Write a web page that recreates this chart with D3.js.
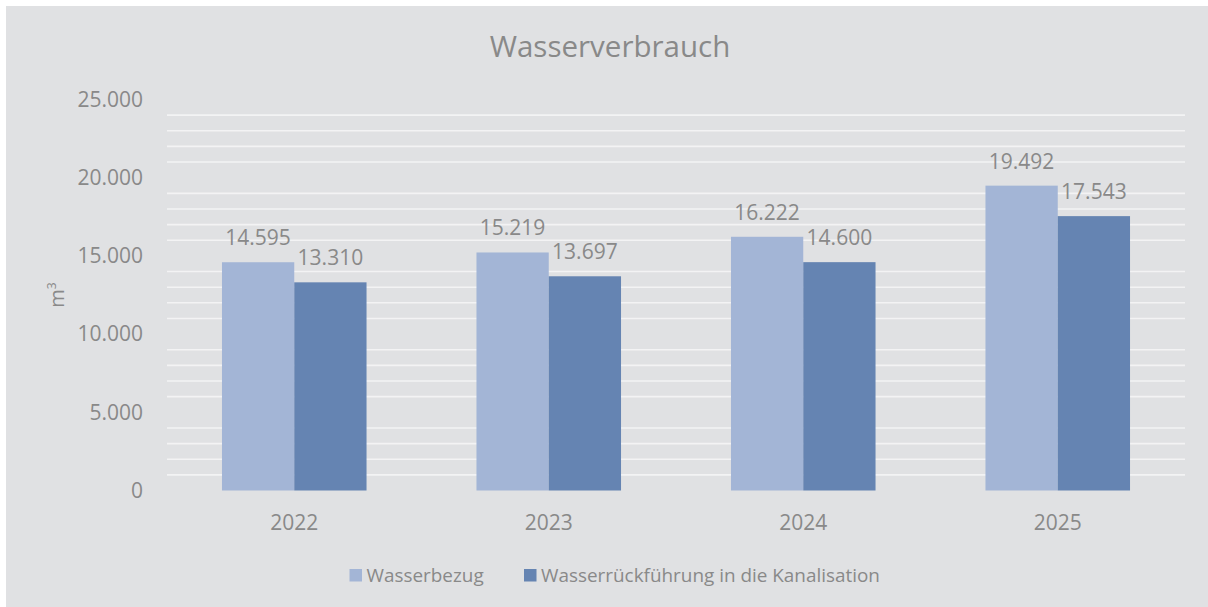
<!DOCTYPE html>
<html>
<head>
<meta charset="utf-8">
<script src="https://cdn.jsdelivr.net/npm/d3@7"></script>
<style>
  html, body { margin: 0; padding: 0; background: #ffffff; }
  svg { display: block; }
  text { font-family: "Open Sans", "Noto Sans", sans-serif; fill: #898989; }
</style>
</head>
<body>
<svg id="chart" width="1208" height="607"></svg>
<script>
const title = "Wasserverbrauch";
const categories = ["2022", "2023", "2024", "2025"];
const seriesNames = ["Wasserbezug", "Wasserrückführung in die Kanalisation"];
const wasserbezug = [14595, 15219, 16222, 19492];
const rueckfuehrung = [13310, 13697, 14600, 17543];
const yTicks = [0, 5000, 10000, 15000, 20000, 25000];
const yTitle = "m";
const yTitleSup = "3";

const seriesValues = [wasserbezug, rueckfuehrung];
const colors = ["#a3b5d6", "#6584b2"];

const de = d3.formatLocale({ decimal: ",", thousands: ".", grouping: [3], currency: ["", " €"] });
const fmt = de.format(",d");

const svg = d3.select("#chart");
const W = 1208, H = 607;

svg.append("rect").attr("x", 6).attr("y", 6).attr("width", W - 6).attr("height", H - 6).attr("fill", "#e0e1e3");

const plot = { left: 167, right: 1185, top: 99.5, bottom: 490.5 };

const y = d3.scaleLinear().domain([0, 25000]).range([plot.bottom, plot.top]);
const x = d3.scaleBand().domain(categories).range([plot.left, plot.right]).paddingInner(0.432).paddingOuter(0.216);
const xs = d3.scaleBand().domain(d3.range(seriesNames.length)).range([0, x.bandwidth()]).padding(0);

// minor gridlines (every 1000, except on major ticks)
const minor = d3.range(1000, 25000, 1000).filter(v => v % 5000 !== 0);
svg.append("g").selectAll("line").data(minor).join("line")
  .attr("x1", plot.left).attr("x2", plot.right)
  .attr("y1", d => y(d)).attr("y2", d => y(d))
  .attr("stroke", "#f3f3f4").attr("stroke-width", 1.6);

// y axis labels
const yAxis = d3.axisLeft(y).tickValues(yTicks).tickFormat(fmt).tickSize(0).tickPadding(0);
const gy = svg.append("g").attr("transform", `translate(143,0)`).call(yAxis);
gy.select(".domain").remove();
gy.selectAll("text").attr("font-size", 21).attr("fill", "#898989").attr("dy", "0.32em")
  .style("font-family", '"Open Sans", "Noto Sans", sans-serif');

// y title
const yt = svg.append("text").attr("transform", "translate(64,295) rotate(-90)")
  .attr("text-anchor", "middle").attr("font-size", 20);
yt.append("tspan").text(yTitle);
yt.append("tspan").attr("font-size", 12).attr("dy", "-0.7em").text(yTitleSup);

// bars
const groups = svg.append("g").selectAll("g").data(categories).join("g")
  .attr("transform", d => `translate(${x(d)},0)`);
groups.each(function(cat, ci) {
  const g = d3.select(this);
  seriesValues.forEach((vals, si) => {
    g.append("rect")
      .attr("x", xs(si)).attr("width", xs.bandwidth())
      .attr("y", y(vals[ci])).attr("height", y(0) - y(vals[ci]))
      .attr("fill", colors[si]);
    g.append("text")
      .attr("x", xs(si) + xs.bandwidth() / 2)
      .attr("y", y(vals[ci]) - 17)
      .attr("text-anchor", "middle").attr("font-size", 21)
      .text(fmt(vals[ci]));
  });
});

// x axis labels
const xAxis = d3.axisBottom(x).tickSize(0).tickPadding(0);
const gx = svg.append("g").attr("transform", `translate(0,530)`).call(xAxis);
gx.select(".domain").remove();
gx.selectAll("text").attr("font-size", 21).attr("fill", "#898989").attr("dy", 0)
  .style("font-family", '"Open Sans", "Noto Sans", sans-serif');

// title
svg.append("text").attr("x", 610).attr("y", 57).attr("text-anchor", "middle")
  .attr("font-size", 29.5).text(title);

// legend
const legendX = [349.5, 524];
const lg = svg.append("g").selectAll("g").data(seriesNames).join("g")
  .attr("transform", (d, i) => `translate(${legendX[i]},569)`);
lg.append("rect").attr("width", 12.5).attr("height", 12.5).attr("fill", (d, i) => colors[i]);
lg.append("text").attr("x", 17).attr("y", 12.5).attr("font-size", 18.9).text(d => d);
</script>
</body>
</html>
